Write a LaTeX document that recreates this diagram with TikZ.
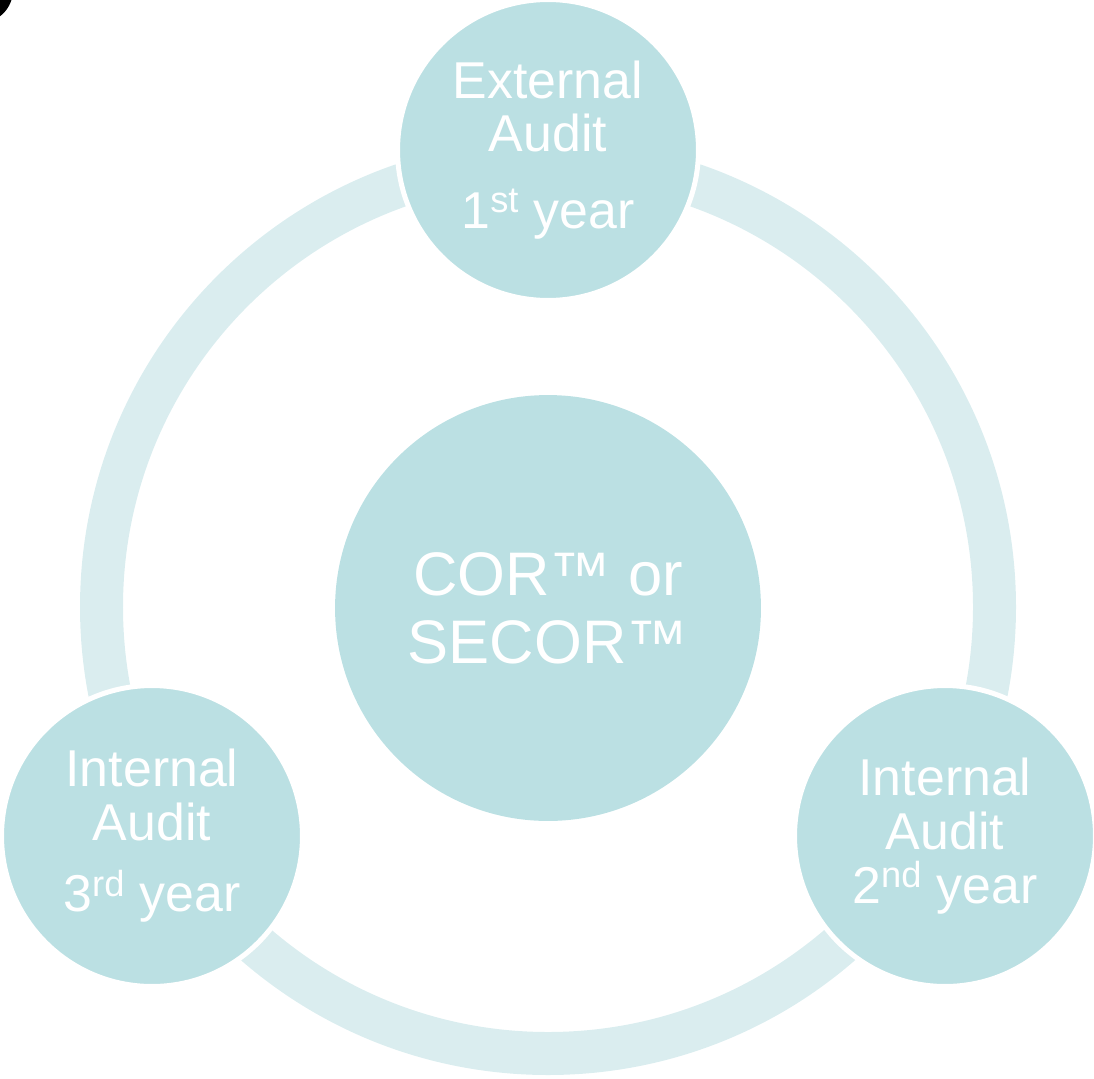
\documentclass[tikz,border=0pt]{standalone}
\usepackage{fontspec}
\setmainfont{Liberation Sans}
\definecolor{circcol}{HTML}{BBE0E3}
\definecolor{ringcol}{HTML}{DAEDEF}
\begin{document}
\begin{tikzpicture}[x=0.02cm,y=-0.02cm,
  stage/.style={circle, fill=circcol, draw=white, line width=0.1cm, minimum size=6.02cm, inner sep=0pt, text=white, align=center, font=\fontsize{29.5}{30.6}\selectfont},
  core/.style={circle, fill=circcol, minimum size=8.52cm, inner sep=0pt, text=white, align=center, font=\fontsize{35}{38.5}\selectfont}]
\useasboundingbox (0,0) rectangle (1094,1078);
\begin{scope}
  \clip (0,0) rectangle (40,40);
  \fill[black] (-20,-10) circle[radius=33];
\end{scope}
\coordinate (hub) at (548,607);
\draw[ringcol, line width=0.86cm] (hub) circle[radius=446.5];
\node[stage] (ext) at (548,150) {External\\Audit\\[13pt]1\textsuperscript{st} year};
\node[stage] (int2) at (945,836) {Internal\\Audit\\2\textsuperscript{nd} year};
\node[stage] (int3) at (152,836) {Internal\\Audit\\[10pt]3\textsuperscript{rd} year};
\node[core] (core) at (548,608) {COR™ or\\SECOR™};
\end{tikzpicture}
\end{document}
